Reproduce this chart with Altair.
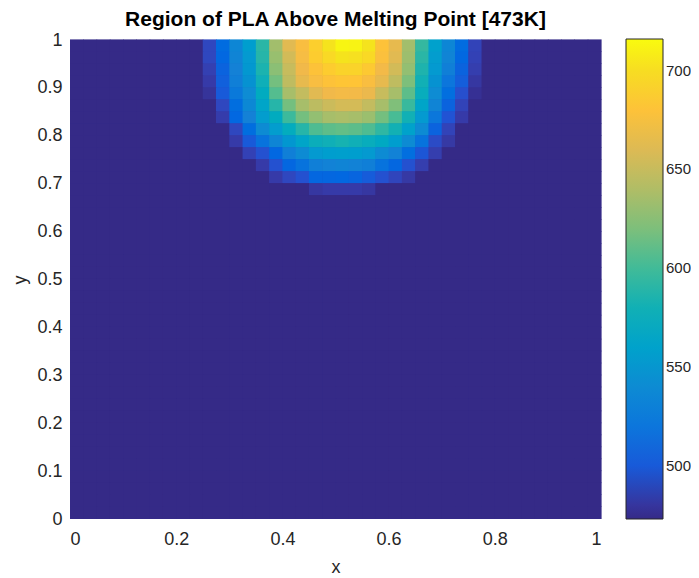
import altair as alt
import pandas as pd

# grid: 40 x 40 cells on [0,1] x [0,1]; background (below melting) = 473 K
n_cells = 40
background = 473
x_ticks = [0, 0.2, 0.4, 0.6, 0.8, 1]
y_ticks = [0, 0.1, 0.2, 0.3, 0.4, 0.5, 0.6, 0.7, 0.8, 0.9, 1]
cbar_ticks = [500, 550, 600, 650, 700]
cbar_domain = [473, 716]

# heated patch: columns 10..30 (x = 0.25 .. 0.775), rows from top (y = 1 downwards)
patch_first_col = 10
patch_rows = [
    [490, 511, 535, 556, 591, 634, 662, 676, 690, 704, 713, 712, 704, 680, 665, 634, 595, 559, 535, 511, 488],
    [490, 508, 533, 552, 589, 630, 655, 674, 688, 697, 704, 702, 697, 678, 662, 632, 591, 555, 533, 508, 487],
    [486, 505, 531, 551, 585, 625, 650, 670, 680, 688, 693, 693, 686, 671, 655, 628, 586, 552, 529, 505, 485],
    [483, 503, 529, 546, 578, 617, 646, 665, 675, 680, 683, 682, 676, 665, 646, 620, 580, 546, 520, 502, 481],
    [479, 500, 523, 541, 572, 606, 636, 648, 662, 670, 672, 671, 667, 650, 636, 609, 575, 541, 514, 494, 477],
    [473, 490, 513, 537, 563, 589, 617, 636, 645, 652, 656, 656, 648, 636, 621, 597, 563, 533, 505, 488, 473],
    [473, 484, 508, 531, 555, 572, 598, 617, 628, 636, 638, 636, 631, 617, 602, 580, 552, 521, 496, 483, 473],
    [473, 473, 490, 513, 540, 555, 573, 589, 604, 609, 611, 609, 604, 593, 581, 560, 540, 505, 488, 473, 473],
    [473, 473, 483, 500, 517, 534, 550, 563, 576, 579, 583, 579, 575, 569, 556, 540, 517, 492, 482, 473, 473],
    [473, 473, 473, 487, 495, 508, 529, 540, 552, 556, 557, 556, 552, 540, 532, 514, 498, 485, 473, 473, 473],
    [473, 473, 473, 473, 483, 495, 507, 517, 529, 532, 533, 532, 529, 517, 507, 495, 485, 473, 473, 473, 473],
    [473, 473, 473, 473, 473, 483, 490, 495, 507, 507, 508, 506, 501, 495, 489, 482, 473, 473, 473, 473, 473],
    [473, 473, 473, 473, 473, 473, 473, 473, 481, 483, 483, 483, 481, 473, 473, 473, 473, 473, 473, 473, 473],
]

parula = ["#352a87", "#353dad", "#2053d4", "#0268e1", "#0d75dc", "#1481d6", "#108ed2",
          "#079ccf", "#06a7c6", "#0faeb9", "#25b5a9", "#42bb98", "#65be86", "#87bf77",
          "#a5be6b", "#c0bc60", "#d9ba56", "#f1b94a", "#ffc337", "#fad32a", "#f5e41d", "#f9fb0e"]

step = 1.0 / n_cells
records = []
for r in range(n_cells):          # r = 0 is the top row
    for c in range(n_cells):
        v = background
        pc = c - patch_first_col
        if r < len(patch_rows) and 0 <= pc < len(patch_rows[r]):
            v = patch_rows[r][pc]
        y_top = 1 - r * step
        records.append({"x0": c * step, "x1": (c + 1) * step,
                        "y0": y_top - step, "y1": y_top, "T": v})
df = pd.DataFrame(records)

font = "Liberation Sans"
txt = "#262626"

color_scale = alt.Scale(domain=cbar_domain, range=parula, nice=False, clamp=True)

chart = alt.Chart(df).mark_rect(x2Offset=0.6, y2Offset=-0.6).encode(
    x=alt.X("x0:Q", scale=alt.Scale(domain=[0, 1], nice=False, zero=False),
            axis=alt.Axis(values=x_ticks, format="~g", title="x", labelPadding=11,
                          titlePadding=10)),
    x2="x1:Q",
    y=alt.Y("y0:Q", scale=alt.Scale(domain=[0, 1], nice=False, zero=False),
            axis=alt.Axis(values=y_ticks, format="~g", title="y", labelPadding=8,
                          titlePadding=7)),
    y2="y1:Q",
    color=alt.Color("T:Q", scale=color_scale,
                    legend=alt.Legend(type="gradient", orient="none", legendX=556,
                                      legendY=-1, direction="vertical", title=None,
                                      values=cbar_ticks, gradientLength=480,
                                      gradientThickness=37, labelOffset=3,
                                      labelFontSize=15, labelFont=font, labelColor=txt,
                                      gradientStrokeColor="#262626",
                                      gradientStrokeWidth=1, padding=0,
                                      labelOverlap=False)),
).properties(
    width=531, height=479,
    title=alt.TitleParams("Region of PLA Above Melting Point [473K]", font=font,
                          fontSize=21, fontWeight="bold", color="#000000",
                          anchor="middle", offset=1),
    padding={"left": 62, "top": 32, "right": 90, "bottom": 60},
    autosize=alt.AutoSizeParams(type="none"),
).configure_view(
    stroke=None, fill="#352a87"
).configure_axis(
    domain=False, ticks=False, grid=False,
    labelFont=font, labelFontSize=18, labelColor=txt,
    titleFont=font, titleFontSize=18, titleFontWeight="normal", titleColor=txt,
)

chart.save("out.html", embed_options={"renderer": "svg", "actions": False})
